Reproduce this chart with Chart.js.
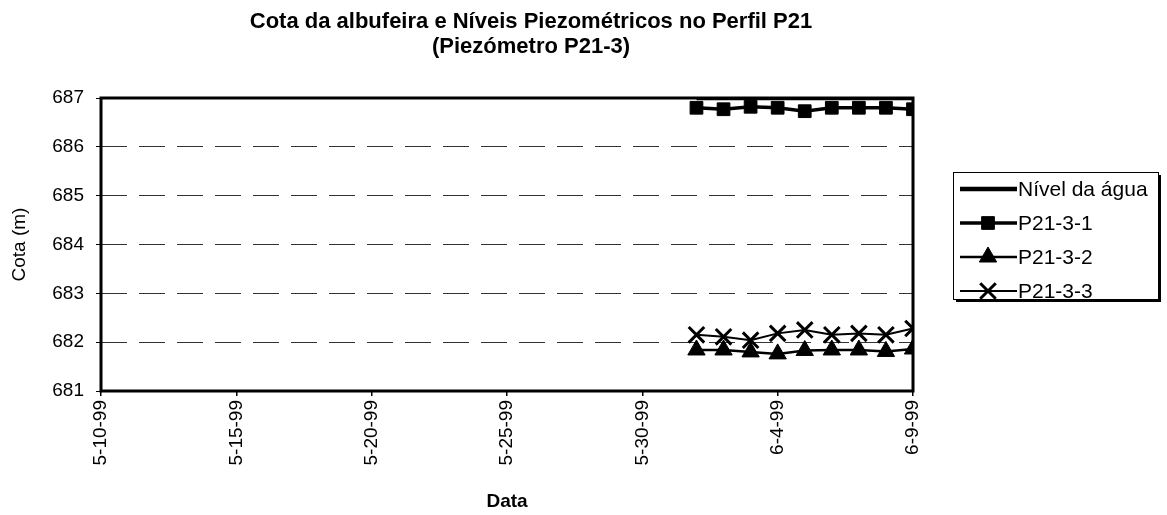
<!DOCTYPE html>
<html>
<head>
<meta charset="utf-8">
<script src="https://cdn.jsdelivr.net/npm/chart.js@4.4.1/dist/chart.umd.min.js"></script>
<style>
  html, body { margin: 0; padding: 0; background: #fff; }
  #wrap { width: 1167px; height: 515px; }
</style>
</head>
<body>
<div id="wrap"><canvas id="c" width="1167" height="515"></canvas></div>
<script>
// ---- Data ----
const startDate = '1999-05-10';
const dates = ['1999-06-01','1999-06-02','1999-06-03','1999-06-04','1999-06-05','1999-06-06','1999-06-07','1999-06-08','1999-06-09'];
const nivelAgua = [687, 687, 687, 687, 687, 687, 687, 687, 687];
const p2131 = [686.80, 686.77, 686.82, 686.80, 686.73, 686.80, 686.80, 686.80, 686.77];
const p2132 = [681.84, 681.84, 681.80, 681.76, 681.83, 681.84, 681.84, 681.81, 681.86];
const p2133 = [682.15, 682.11, 682.04, 682.18, 682.25, 682.15, 682.18, 682.15, 682.28];
const xTickLabels = ['5-10-99','5-15-99','5-20-99','5-25-99','5-30-99','6-4-99','6-9-99'];
const seriesNames = ['Nível da água', 'P21-3-1', 'P21-3-2', 'P21-3-3'];
const titleLines = ['Cota da albufeira e Níveis Piezométricos no Perfil P21', '(Piezómetro P21-3)'];

const FONT = '"Liberation Sans", Arial, sans-serif';
function dayOffset(d) {
  const a = d.split('-').map(Number), s = startDate.split('-').map(Number);
  return (Date.UTC(a[0], a[1]-1, a[2]) - Date.UTC(s[0], s[1]-1, s[2])) / 86400000;
}
function pts(vals) { return dates.map((d, i) => ({ x: dayOffset(d), y: vals[i] })); }

const datasets = [
  { label: seriesNames[0], data: pts(nivelAgua), borderColor: '#000', backgroundColor: '#000', borderWidth: 4.5, pointRadius: 0, pointStyle: false, legendMarker: null },
  { label: seriesNames[1], data: pts(p2131), borderColor: '#000', backgroundColor: '#000', borderWidth: 3.5, pointStyle: 'rect', pointRadius: 9, pointBorderWidth: 1, legendMarker: 'rect' },
  { label: seriesNames[2], data: pts(p2132), borderColor: '#000', backgroundColor: '#000', borderWidth: 2.5, pointStyle: 'triangle', pointRadius: 10, pointBorderWidth: 1, legendMarker: 'triangle' },
  { label: seriesNames[3], data: pts(p2133), borderColor: '#000', backgroundColor: '#000', borderWidth: 2, pointStyle: 'crossRot', pointRadius: 11, pointBorderWidth: 3, legendMarker: 'crossRot' }
];

const decor = {
  id: 'decor',
  beforeDatasetsDraw(chart) {
    const { ctx, chartArea: a } = chart;
    ctx.save();
    ctx.strokeStyle = '#000';
    ctx.lineWidth = 3;
    ctx.strokeRect(a.left, a.top, a.right - a.left, a.bottom - a.top);
    ctx.restore();
  },
  afterDraw(chart) {
    const { ctx } = chart;
    ctx.save();
    // Title
    ctx.fillStyle = '#000';
    ctx.font = 'bold 22px ' + FONT;
    ctx.textAlign = 'center';
    ctx.textBaseline = 'middle';
    ctx.fillText(titleLines[0], 531, 22);
    ctx.fillText(titleLines[1], 531, 47);
    // Legend box
    const bx = 953, by = 172, bw = 205, bh = 127;
    ctx.fillStyle = '#000';
    ctx.fillRect(bx + 3, by + bh, bw, 3);
    ctx.fillRect(bx + bw, by + 3, 3, bh);
    ctx.fillStyle = '#fff';
    ctx.fillRect(bx, by, bw, bh);
    ctx.strokeStyle = '#000';
    ctx.lineWidth = 1;
    ctx.strokeRect(bx + 0.5, by + 0.5, bw, bh);
    const ys = [189, 223, 257, 291];
    chart.data.datasets.forEach((ds, i) => {
      const y = ys[i];
      ctx.strokeStyle = ds.borderColor;
      ctx.lineWidth = ds.borderWidth;
      ctx.beginPath();
      ctx.moveTo(960, y);
      ctx.lineTo(1017, y);
      ctx.stroke();
      if (ds.legendMarker) {
        ctx.fillStyle = ds.backgroundColor;
        ctx.strokeStyle = ds.borderColor;
        ctx.lineWidth = ds.pointBorderWidth;
        Chart.helpers.drawPoint(ctx, { pointStyle: ds.legendMarker, radius: ds.pointRadius, rotation: 0, borderWidth: ds.pointBorderWidth }, 988, y);
      }
      ctx.fillStyle = '#000';
      ctx.font = '21px ' + FONT;
      ctx.textAlign = 'left';
      ctx.textBaseline = 'middle';
      ctx.fillText(ds.label, 1018, y + 1);
    });
    ctx.restore();
  }
};

new Chart(document.getElementById('c'), {
  type: 'line',
  data: { datasets },
  options: {
    responsive: false,
    animation: false,
    devicePixelRatio: 1,
    layout: { padding: { left: 0, right: 254, top: 98, bottom: 0 } },
    plugins: { legend: { display: false }, title: { display: false }, tooltip: { enabled: false } },
    elements: { line: { tension: 0 } },
    scales: {
      x: {
        type: 'linear', min: 0, max: 30,
        border: { display: false },
        grid: { drawOnChartArea: false, drawTicks: true, tickLength: 5, color: '#000', lineWidth: 1.5 },
        ticks: {
          stepSize: 5, autoSkip: false, minRotation: 90, maxRotation: 90, padding: 4, color: '#000',
          font: { size: 19, family: FONT },
          callback: (v) => xTickLabels[Math.round(v / 5)]
        },
        title: { display: true, text: 'Data', color: '#000', font: { size: 19, weight: 'bold', family: FONT }, padding: { top: 0, bottom: 2 } },
        afterFit(s) { s.height = 124; }
      },
      y: {
        min: 681, max: 687,
        border: { display: false, dash: [26, 12] },
        grid: { color: '#333', lineWidth: 1, tickLength: 5, tickColor: '#000', tickBorderDash: [] },
        ticks: { stepSize: 1, padding: 12, color: '#000', font: { size: 19, family: FONT } },
        title: { display: true, text: 'Cota (m)', color: '#000', font: { size: 19, family: FONT }, padding: { top: 8, bottom: 0 } },
        afterFit(s) { s.width = 101; }
      }
    }
  },
  plugins: [decor]
});
</script>
</body>
</html>
